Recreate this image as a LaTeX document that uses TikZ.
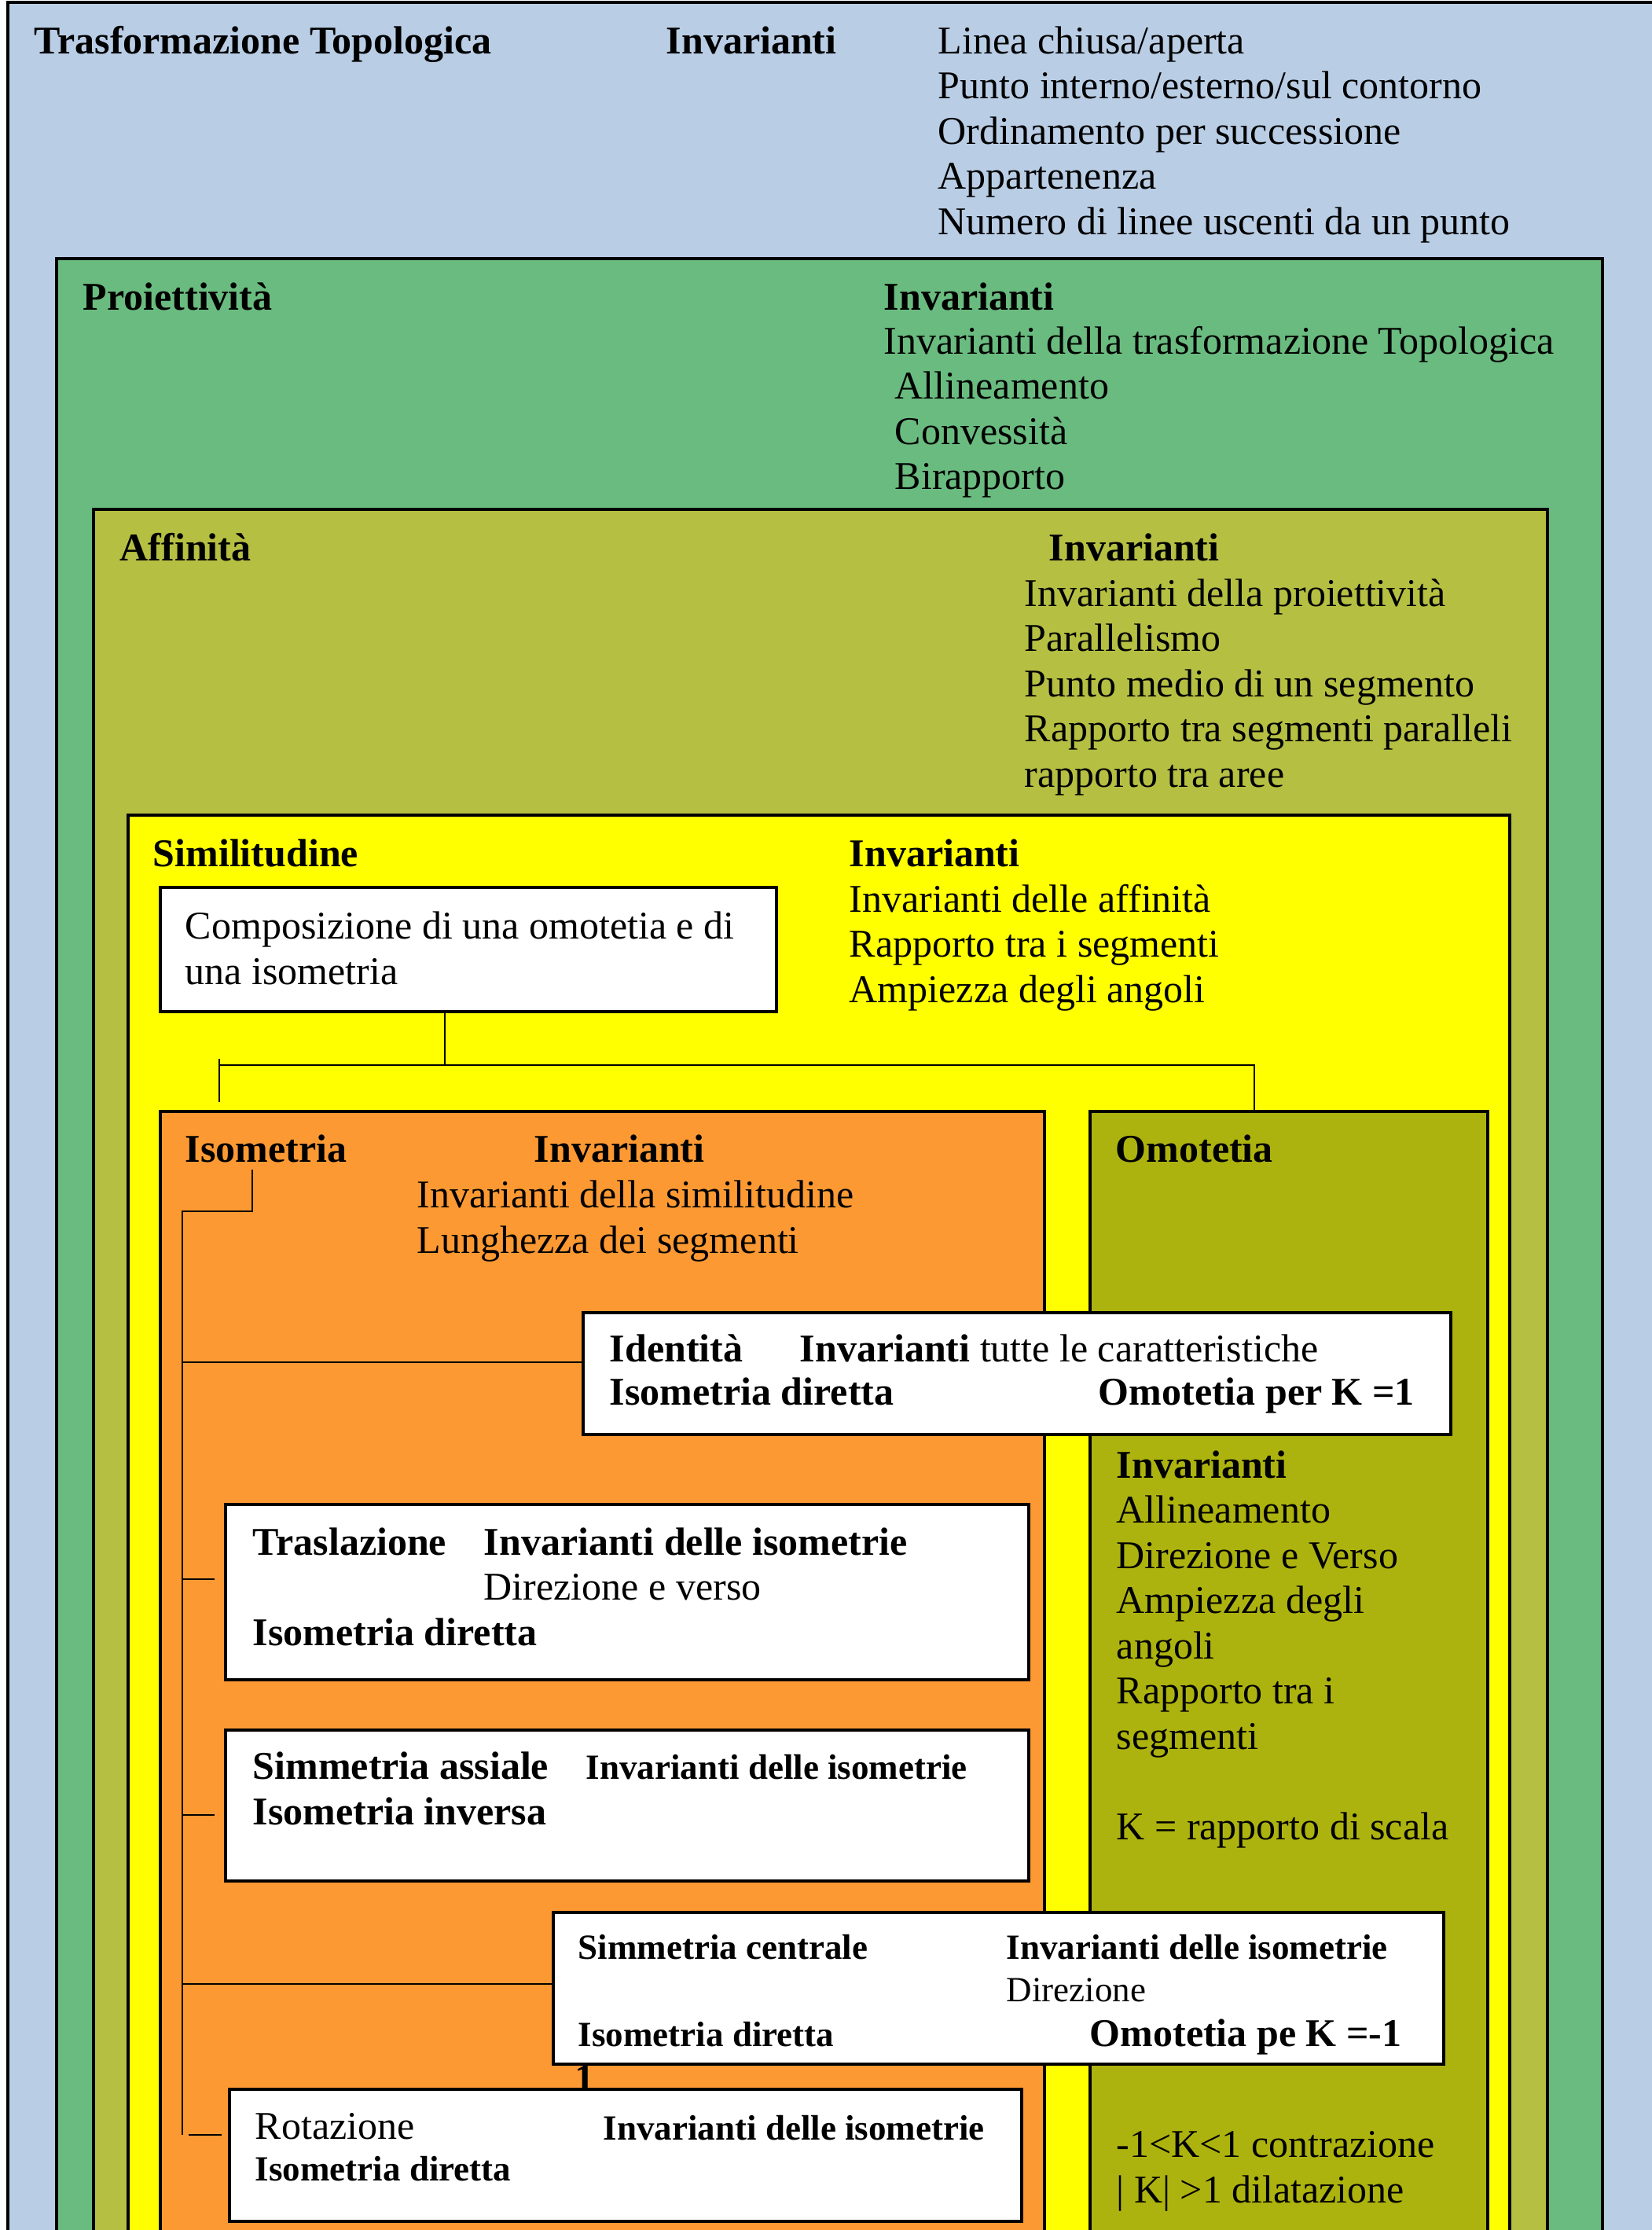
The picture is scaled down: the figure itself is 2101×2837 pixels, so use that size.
\documentclass[tikz,border=0pt]{standalone}
\usepackage{fontspec}
\setmainfont{Liberation Serif}
\usetikzlibrary{fit}

\definecolor{topoblue}{RGB}{185,205,229}
\definecolor{projgreen}{RGB}{106,187,127}
\definecolor{affolive}{RGB}{181,191,66}
\definecolor{simyellow}{RGB}{255,255,0}
\definecolor{isoorange}{RGB}{253,153,51}
\definecolor{omotolive}{RGB}{173,179,14}

\tikzset{
  area/.style={draw=black, line width=0.8pt, inner sep=0pt},
  wbox/.style={area, fill=white},
  txt/.style={anchor=base west, inner sep=0pt, font=\fontsize{12.5}{15}\selectfont},
  sm/.style={anchor=base west, inner sep=0pt, font=\fontsize{11.25}{13.5}\selectfont},
  conn/.style={line width=0.7pt},
}

\begin{document}
\begin{tikzpicture}[x=0.25pt, y=-0.25pt]
    \useasboundingbox (0,0) rectangle (2101,2837);

    % nested areas
    \node[area, fill=topoblue, fit={(10,3) (2200,2950)}] (topo) {};
    \node[area, fill=projgreen, fit={(72,329) (2039,2950)}] (proj) {};
    \node[area, fill=affolive, fit={(119,648) (1969,2950)}] (aff) {};
    \node[area, fill=simyellow, fit={(163,1037) (1921,2950)}] (simil) {};
    \node[area, fill=isoorange, fit={(204,1414) (1329,2950)}] (iso) {};
    \node[area, fill=omotolive, fit={(1387,1414) (1893,2950)}] (omot) {};

    % topologica
    \node[txt] (topo-name) at (43,68) {\textbf{Trasformazione Topologica}};
    \node[txt] (topo-inv) at (847,68) {\textbf{Invarianti}};
    \foreach \t [count=\i from 0] in {Linea chiusa/aperta, Punto interno/esterno/sul contorno,
        Ordinamento per successione, Appartenenza, Numero di linee uscenti da un punto}
        \node[txt] (topo-l\i) at (1193,68+57.5*\i) {\t};

    % proiettivita
    \node[txt] (proj-name) at (105,394) {\textbf{Proiettività}};
    \node[txt] (proj-inv) at (1124,394) {\textbf{Invarianti}};
    \node[txt] (proj-l0) at (1124,450) {Invarianti della trasformazione Topologica};
    \foreach \t [count=\i] in {Allineamento, Convessità, Birapporto}
        \node[txt] (proj-l\i) at (1138,450+57.5*\i) {\t};

    % affinita
    \node[txt] (aff-name) at (152,713) {\textbf{Affinità}};
    \node[txt] (aff-inv) at (1334,713) {\textbf{Invarianti}};
    \foreach \t [count=\i from 0] in {Invarianti della proiettività, Parallelismo,
        Punto medio di un segmento, Rapporto tra segmenti paralleli, rapporto tra aree}
        \node[txt] (aff-l\i) at (1303,771+57.5*\i) {\t};

    % similitudine
    \node[txt] (simil-name) at (194,1102) {\textbf{Similitudine}};
    \node[txt] (simil-inv) at (1080,1102) {\textbf{Invarianti}};
    \foreach \t [count=\i from 0] in {Invarianti delle affinità, Rapporto tra i segmenti,
        Ampiezza degli angoli}
        \node[txt] (simil-l\i) at (1080,1160+57.5*\i) {\t};

    \node[wbox, fit={(204,1129) (988,1287)}] (comp) {};
    \node[txt] (comp-l0) at (235,1194) {Composizione di una omotetia e di};
    \node[txt] (comp-l1) at (235,1252) {una isometria};

    \coordinate (sjoin) at (566,1355);
    \coordinate (isotop) at (279,1347);
    \coordinate (isoend) at (279,1402);
    \coordinate (omtop) at (1596,1414);
    \draw[conn] (comp.south -| sjoin) -- (sjoin);
    \draw[conn] (isotop) -- (isoend);
    \draw[conn] (isoend |- sjoin) -| (omtop);

    % isometria
    \node[txt] (iso-name) at (235,1478) {\textbf{Isometria}};
    \node[txt] (iso-inv) at (679,1478) {\textbf{Invarianti}};
    \node[txt] (iso-l0) at (530,1536) {Invarianti della similitudine};
    \node[txt] (iso-l1) at (530,1594) {Lunghezza dei segmenti};

    % omotetia
    \node[txt] (omot-name) at (1419,1478) {\textbf{Omotetia}};
    \node[txt] (omot-inv) at (1420,1880) {\textbf{Invarianti}};
    \foreach \t [count=\i] in {Allineamento, Direzione e Verso, Ampiezza degli, angoli,
        Rapporto tra i, segmenti, {}, K = rapporto di scala}
        \node[txt] (omot-l\i) at (1420,1880+57.5*\i) {\t};
    \node[txt] (omot-c) at (1420,2744) {-1<K<1 contrazione};
    \node[txt] (omot-d) at (1420,2802) {| K| >1 dilatazione};

    % bracket of the isometrie
    \coordinate (ib) at (321,1488);
    \coordinate (ibk) at (232,1541);
    \coordinate (ibend) at (232,2716);
    \draw[conn] (ib) |- (ibk) -- (ibend);
    \coordinate (b1) at (232,1733);
    \coordinate (b2) at (232,2009);
    \coordinate (b3) at (232,2309);
    \coordinate (b4) at (232,2524);
    \coordinate (b5) at (240,2716);

    % identita
    \node[wbox, fit={(742,1670) (1846,1825)}] (iden) {};
    \draw[conn] (b1) -- (b1 -| iden.west);
    \node[txt] (iden-name) at (775,1732) {\textbf{Identità}};
    \node[txt] (iden-inv) at (1017,1732) {\textbf{Invarianti} tutte le caratteristiche};
    \node[txt] (iden-dir) at (775,1787) {\textbf{Isometria diretta}};
    \node[txt] (iden-k) at (1397,1787) {\textbf{Omotetia per K =1}};

    % traslazione
    \node[wbox, fit={(287,1914) (1309,2137)}] (tras) {};
    \draw[conn, shorten >=3pt] (b2) -- (b2 -| tras.west);
    \node[txt] (tras-name) at (321,1978) {\textbf{Traslazione}};
    \node[txt] (tras-inv) at (615,1978) {\textbf{Invarianti delle isometrie}};
    \node[txt] (tras-l0) at (615,2035) {Direzione e verso};
    \node[txt] (tras-dir) at (321,2093) {\textbf{Isometria diretta}};

    % simmetria assiale
    \node[wbox, fit={(287,2201) (1309,2393)}] (sass) {};
    \draw[conn, shorten >=3pt] (b3) -- (b3 -| sass.west);
    \node[txt] (sass-name) at (321,2263) {\textbf{Simmetria assiale}};
    \node[sm] (sass-inv) at (745,2263) {\textbf{Invarianti delle isometrie}};
    \node[txt] (sass-inv2) at (321,2321) {\textbf{Isometria inversa}};

    % simmetria centrale
    \node[txt] (one) at (731,2660) {\textbf{1}};
    \node[wbox, fit={(704,2433) (1837,2626)}] (scen) {};
    \draw[conn] (b4) -- (b4 -| scen.west);
    \node[sm] (scen-name) at (735,2492) {\textbf{Simmetria centrale}};
    \node[sm] (scen-inv) at (1280,2492) {\textbf{Invarianti delle isometrie}};
    \node[sm] (scen-l0) at (1280,2546) {Direzione};
    \node[sm] (scen-dir) at (735,2603) {\textbf{Isometria diretta}};
    \node[txt] (scen-k) at (1386,2603) {\textbf{Omotetia pe K =-1}};

    % rotazione
    \node[wbox, fit={(292,2658) (1300,2826)}] (rot) {};
    \draw[conn, shorten >=2pt] (b5) -- (b5 -| rot.west);
    \node[txt] (rot-name) at (324,2721) {Rotazione};
    \node[sm] (rot-inv) at (767,2722) {\textbf{Invarianti delle isometrie}};
    \node[sm] (rot-dir) at (324,2774) {\textbf{Isometria diretta}};
\end{tikzpicture}
\end{document}
